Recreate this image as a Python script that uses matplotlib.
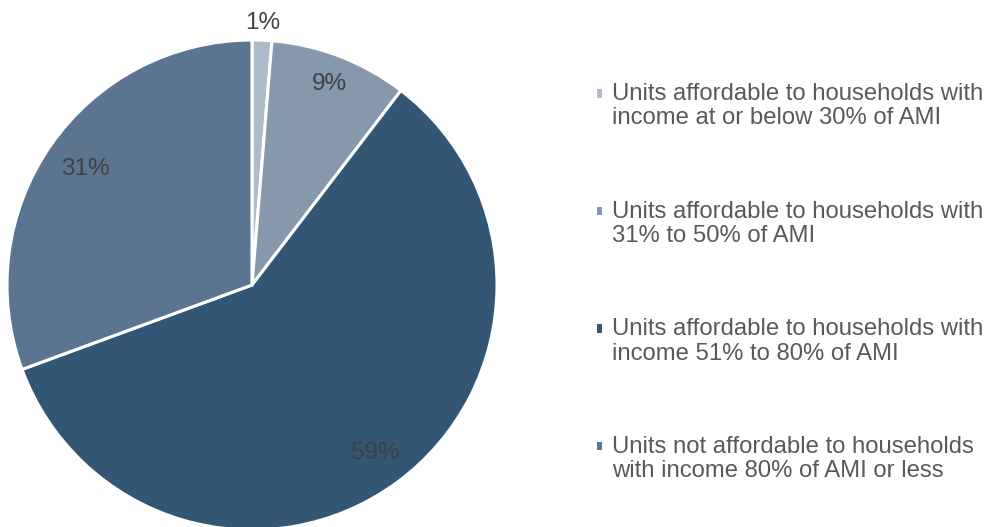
import matplotlib
matplotlib.use("Agg")
import matplotlib.pyplot as plt
from matplotlib.legend_handler import HandlerPatch
from matplotlib.patches import Rectangle
import numpy as np

plt.rcParams['font.family'] = ['Liberation Sans', 'DejaVu Sans']

categories = [
    "Units affordable to households with\nincome at or below 30% of AMI",
    "Units affordable to households with\n31% to 50% of AMI",
    "Units affordable to households with\nincome 51% to 80% of AMI",
    "Units not affordable to households\nwith income 80% of AMI or less",
]
values = [1.3, 9.1, 59.0, 30.6]
pct_labels = ["1%", "9%", "59%", "31%"]
colors = ["#ADBCCB", "#8698AC", "#345675", "#5B7590"]
label_dist = [1.07, 0.88, 0.85, 0.83]

W, H = 988, 527
fig = plt.figure(figsize=(W / 100, H / 100), dpi=100)
cx, cy, r = 252, 285, 245
ax = fig.add_axes([(cx - r) / W, (H - cy - r) / H, 2 * r / W, 2 * r / H])
wedges, _ = ax.pie(values, colors=colors, startangle=90, counterclock=False,
                   radius=1, wedgeprops=dict(edgecolor="white", linewidth=2.2))
ax.set_xlim(-1, 1)
ax.set_ylim(-1, 1)
ax.set_aspect("equal")
ax.axis("off")
for w in wedges:
    w.set_clip_on(False)

for w, lab, d in zip(wedges, pct_labels, label_dist):
    ang = np.deg2rad((w.theta1 + w.theta2) / 2)
    ax.text(d * np.cos(ang), d * np.sin(ang), lab, ha="center", va="center",
            fontsize=17.5, color="#404040", clip_on=False)

FS = 17.2


def top_square(legend, orig_handle, xdescent, ydescent, width, height, fontsize):
    return Rectangle((-xdescent, -ydescent + 0.55 * fontsize), width, height)


leg = fig.legend(wedges, categories, loc="upper left",
                 bbox_to_anchor=(595 / W, 1 - 83 / H), frameon=False,
                 fontsize=FS, handlelength=0.35, handleheight=0.35,
                 handletextpad=0.35, labelspacing=2.98, labelcolor="#595959",
                 borderaxespad=0, borderpad=0,
                 handler_map={w: HandlerPatch(patch_func=top_square) for w in wedges})
for t in leg.get_texts():
    t.set_linespacing(1.14)

fig.savefig("out.png", dpi=100)
